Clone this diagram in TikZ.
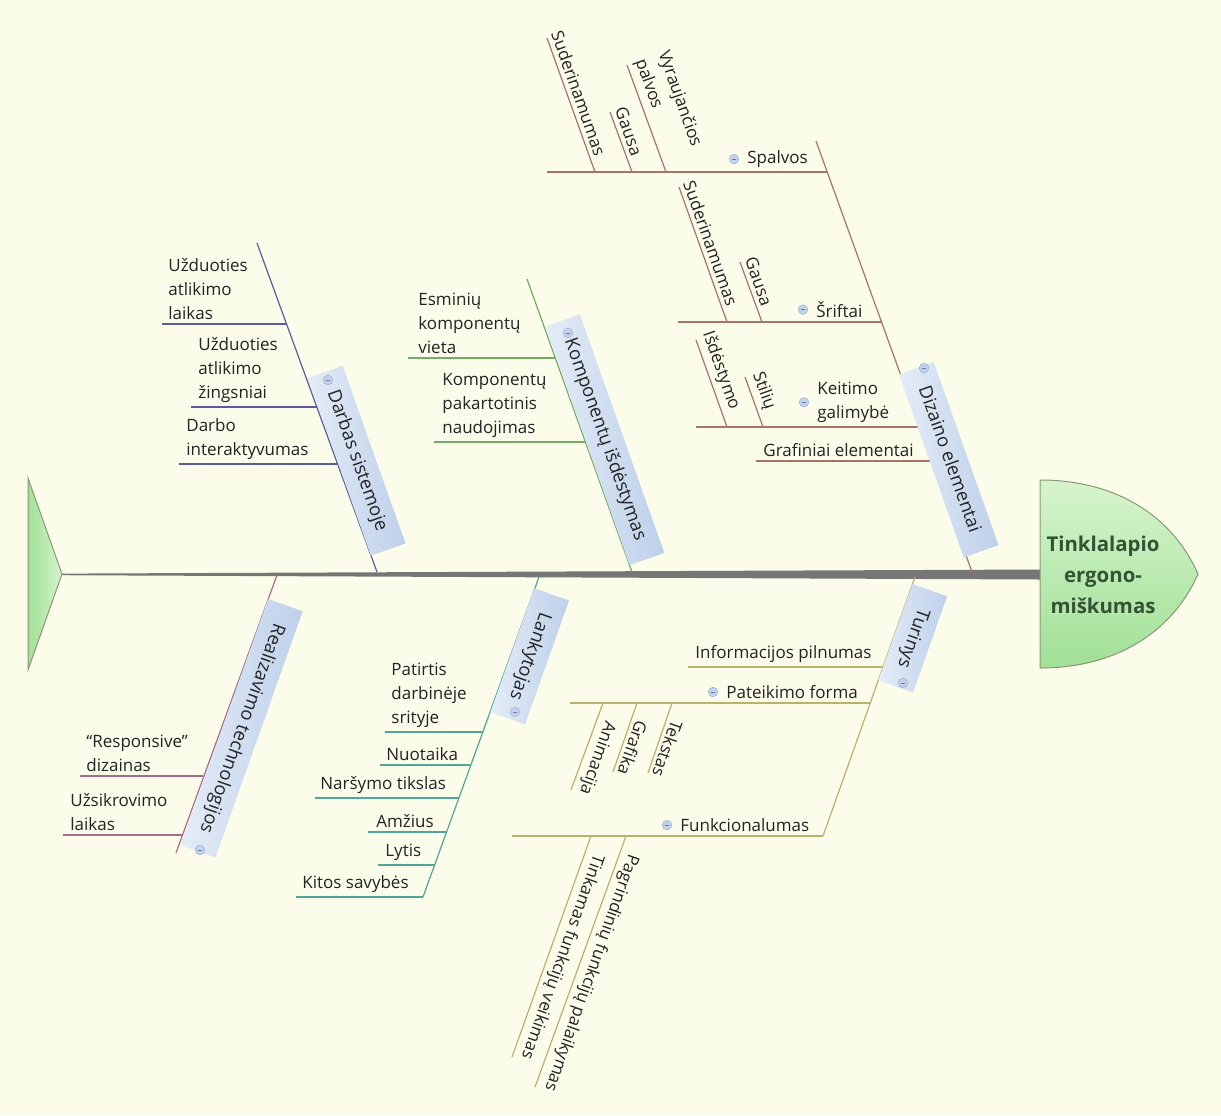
\documentclass[tikz,border=0pt]{standalone}
\usepackage{fontspec}
\setmainfont{Open Sans}
\usepackage{tikz}
\usetikzlibrary{calc, positioning}
\definecolor{paper}{RGB}{252,252,234}
\definecolor{spineGray}{RGB}{118,118,118}
\definecolor{fishEdge}{RGB}{140,150,120}
\definecolor{fishLight}{RGB}{214,244,204}
\definecolor{fishDark}{RGB}{160,224,150}
\definecolor{headText}{RGB}{52,82,52}
\definecolor{leafText}{RGB}{35,35,35}
\definecolor{catLight}{RGB}{228,236,247}
\definecolor{catDark}{RGB}{190,208,234}
\definecolor{iconFill}{RGB}{192,210,236}
\definecolor{iconDash}{RGB}{95,125,175}
\definecolor{dizLine}{RGB}{170,115,105}
\definecolor{kompLine}{RGB}{115,172,100}
\definecolor{darbLine}{RGB}{90,90,160}
\definecolor{turLine}{RGB}{188,178,108}
\definecolor{lankLine}{RGB}{82,166,152}
\definecolor{realLine}{RGB}{165,108,140}

\tikzset{
  rib/.style={line width=0.6pt},
  leaf/.style={inner sep=2pt, font=\fontsize{8.5}{12}\selectfont, text=leafText, align=left},
  upleaf/.style={leaf, rotate=-70.5, anchor=south east},
  downleaf/.style={leaf, rotate=-109.5, anchor=south west},
  catbox/.style={anchor=south, inner xsep=10pt, inner ysep=4.6pt, text height=7pt, text depth=2.2pt,
    font=\fontsize{9.2}{11}\selectfont, text=leafText, left color=catLight, right color=catDark},
  minusicon/.style={circle, inner sep=0pt, minimum size=4.8pt, fill=iconFill, draw=iconFill!80!black, line width=0.2pt,
    path picture={\draw[iconDash, line width=0.5pt] ([xshift=-1.1pt]path picture bounding box.center) -- ([xshift=1.1pt]path picture bounding box.center);}},
  headtext/.style={font=\fontsize{10.2}{15.5}\selectfont\bfseries, text=headText, align=center}
}

\begin{document}
\begin{tikzpicture}[x=0.5pt, y=-0.5pt]
  \fill[paper] (0,0) rectangle (1221,1115);
  \useasboundingbox (0,0) rectangle (1221,1115);

  % spine, tail and head
  \fill[spineGray] (62,573.6) -- (1040,569.5) -- (1040,579.5) -- (62,575.2) -- cycle;
  \draw[fishEdge, line width=0.5pt, left color=fishDark, right color=fishLight] (28,478) -- (62,574) -- (28,670) -- cycle;
  \draw[fishEdge, line width=0.5pt, top color=fishLight, bottom color=fishDark]
    (1040,480) .. controls (1115,480) and (1172,515) .. (1198,574)
    .. controls (1172,633) and (1115,668) .. (1040,668) -- cycle;
  \node[headtext] (effect) at (1103,575) {Tinklalapio\\ergono-\\miškumas};

  % Dizaino elementai
  \coordinate (dizTop) at (816,141);
  \coordinate (dizBase) at (972,572);
  \coordinate (spA) at (547,172);  \coordinate (spB) at (827,172);
  \coordinate (srA) at (678,322);  \coordinate (srB) at (882,322);
  \coordinate (keA) at (696,427);  \coordinate (keB) at (918,427);
  \coordinate (grA) at (756,461);  \coordinate (grB) at (930,461);
  \coordinate (spSudT) at (547,38);  \coordinate (spSudB) at (595,172);
  \coordinate (spGauT) at (610,112); \coordinate (spGauB) at (632,172);
  \coordinate (spVyrT) at (627,65);  \coordinate (spVyrB) at (666,172);
  \coordinate (srSudT) at (679,187); \coordinate (srSudB) at (727,322);
  \coordinate (srGauT) at (740,262); \coordinate (srGauB) at (762,322);
  \coordinate (keIsdT) at (696,340); \coordinate (keIsdB) at (727,427);
  \coordinate (keStiT) at (745,377); \coordinate (keStiB) at (763,427);
  \draw[rib, dizLine] (dizTop) -- (dizBase);
  \draw[rib, dizLine] (spA) -- (spB) (srA) -- (srB) (keA) -- (keB) (grA) -- (grB);
  \draw[rib, dizLine] (spSudT) -- (spSudB) (spGauT) -- (spGauB) (spVyrT) -- (spVyrB)
    (srSudT) -- (srSudB) (srGauT) -- (srGauB) (keIsdT) -- (keIsdB) (keStiT) -- (keStiB);
  \node[catbox, rotate=-70.5] (dizBox) at (931,466) {Dizaino elementai};
  \node[minusicon] (dizIcon) at (924,368) {};
  \node[leaf, anchor=south west] (spalvos) at (743,172) {Spalvos};
  \node[minusicon, left=2pt of spalvos] (spIcon) {};
  \node[upleaf] (spSud) at ($(spSudB)!5pt!(spSudT)$) {Suderinamumas};
  \node[upleaf] (spGau) at ($(spGauB)!5pt!(spGauT)$) {Gausa};
  \node[upleaf] (spVyr) at ($(spVyrB)!5pt!(spVyrT)$) {Vyraujančios\\palvos};
  \node[leaf, anchor=south west] (sriftai) at (812,322) {Šriftai};
  \node[minusicon, left=2pt of sriftai] (srIcon) {};
  \node[upleaf] (srSud) at ($(srSudB)!5pt!(srSudT)$) {Suderinamumas};
  \node[upleaf] (srGau) at ($(srGauB)!5pt!(srGauT)$) {Gausa};
  \node[leaf, anchor=south west] (keitimo) at (813,427) {Keitimo\\galimybė};
  \node[minusicon, left=2pt of keitimo] (keIcon) {};
  \node[upleaf] (keIsd) at ($(keIsdB)!5pt!(keIsdT)$) {Išdėstymo};
  \node[upleaf] (keSti) at ($(keStiB)!5pt!(keStiT)$) {Stilių};
  \node[leaf, anchor=south west] (grafiniai) at (759,461) {Grafiniai elementai};

  % Komponentu isdestymas
  \coordinate (kompTop) at (527,279);
  \coordinate (kompBase) at (632,572);
  \coordinate (esA) at (408,358); \coordinate (esB) at (555,358);
  \coordinate (paA) at (434,442); \coordinate (paB) at (586,442);
  \draw[rib, kompLine] (kompTop) -- (kompBase);
  \draw[rib, kompLine] (esA) -- (esB) (paA) -- (paB);
  \node[catbox, rotate=-70.5] (kompBox) at (587,446) {Komponentų išdėstymas};
  \node[minusicon] (kompIcon) at (568,333) {};
  \node[leaf, anchor=south west] (esminiu) at (414,358) {Esminių\\komponentų\\vieta};
  \node[leaf, anchor=south west] (pakart) at (438,442) {Komponentų\\pakartotinis\\naudojimas};

  % Darbas sistemoje
  \coordinate (darbTop) at (257,243);
  \coordinate (darbBase) at (377,572);
  \coordinate (laA) at (162,324); \coordinate (laB) at (287,324);
  \coordinate (ziA) at (191,407); \coordinate (ziB) at (317,407);
  \coordinate (inA) at (179,464); \coordinate (inB) at (338,464);
  \draw[rib, darbLine] (darbTop) -- (darbBase);
  \draw[rib, darbLine] (laA) -- (laB) (ziA) -- (ziB) (inA) -- (inB);
  \node[catbox, rotate=-70.5] (darbBox) at (339,467) {Darbas sistemoje};
  \node[minusicon] (darbIcon) at (328,380) {};
  \node[leaf, anchor=south west] (laikas) at (164,324) {Užduoties\\atlikimo\\laikas};
  \node[leaf, anchor=south west] (zingsn) at (194,407) {Užduoties\\atlikimo\\žingsniai};
  \node[leaf, anchor=south west] (interakt) at (182,464) {Darbo\\interaktyvumas};

  % Turinys
  \coordinate (turBase) at (915,577);
  \coordinate (turEnd) at (823,836);
  \coordinate (ipA) at (688,667); \coordinate (ipB) at (883,667);
  \coordinate (pfA) at (570,703); \coordinate (pfB) at (870,703);
  \coordinate (fuA) at (512,836); \coordinate (fuB) at (823,836);
  \coordinate (tekT) at (672,703); \coordinate (tekB) at (648,773);
  \coordinate (graT) at (637,703); \coordinate (graB) at (613,772);
  \coordinate (aniT) at (603,703); \coordinate (aniB) at (571,790);
  \coordinate (pagT) at (626,836); \coordinate (pagB) at (535,1087);
  \coordinate (tinT) at (591,836); \coordinate (tinB) at (512,1057);
  \draw[rib, turLine] (turBase) -- (turEnd);
  \draw[rib, turLine] (ipA) -- (ipB) (pfA) -- (pfB) (fuA) -- (fuB);
  \draw[rib, turLine] (tekT) -- (tekB) (graT) -- (graB) (aniT) -- (aniB) (pagT) -- (pagB) (tinT) -- (tinB);
  \node[catbox, rotate=-109.5] (turBox) at (895,632) {Turinys};
  \node[minusicon] (turIcon) at (903,683) {};
  \node[leaf, anchor=south west] (inform) at (691,667) {Informacijos pilnumas};
  \node[leaf, anchor=south west] (pateik) at (722,703) {Pateikimo forma};
  \node[minusicon, left=2pt of pateik] (pfIcon) {};
  \node[downleaf] (tekstas) at ($(tekT)!5.5pt!(tekB)$) {Tekstas};
  \node[downleaf] (grafika) at ($(graT)!5.5pt!(graB)$) {Grafika};
  \node[downleaf] (animac) at ($(aniT)!5.5pt!(aniB)$) {Animacija};
  \node[leaf, anchor=south west] (funkc) at (676,836) {Funkcionalumas};
  \node[minusicon, left=2pt of funkc] (fuIcon) {};
  \node[downleaf] (pagrind) at ($(pagT)!5.5pt!(pagB)$) {Pagrindinių funkcijų palaikymas};
  \node[downleaf] (tinkam) at ($(tinT)!5.5pt!(tinB)$) {Tinkamas funkcijų veikimas};

  % Lankytojas
  \coordinate (lankBase) at (539,577);
  \coordinate (lankEnd) at (423,897);
  \coordinate (ptA) at (385,732); \coordinate (ptB) at (483,732);
  \coordinate (nuA) at (380,765); \coordinate (nuB) at (471,765);
  \coordinate (naA) at (315,798); \coordinate (naB) at (459,798);
  \coordinate (amA) at (368,832); \coordinate (amB) at (447,832);
  \coordinate (lyA) at (378,865); \coordinate (lyB) at (435,865);
  \coordinate (kiA) at (296,897); \coordinate (kiB) at (423,897);
  \draw[rib, lankLine] (lankBase) -- (lankEnd);
  \draw[rib, lankLine] (ptA) -- (ptB) (nuA) -- (nuB) (naA) -- (naB) (amA) -- (amB) (lyA) -- (lyB) (kiA) -- (kiB);
  \node[catbox, rotate=-109.5] (lankBox) at (512,650) {Lankytojas};
  \node[minusicon] (lankIcon) at (515,712) {};
  \node[leaf, anchor=south west] (patirtis) at (387,732) {Patirtis\\darbinėje\\srityje};
  \node[leaf, anchor=south west] (nuotaika) at (382,765) {Nuotaika};
  \node[leaf, anchor=south west] (tikslas) at (316,798) {Naršymo tikslas};
  \node[leaf, anchor=south west] (amzius) at (372,832) {Amžius};
  \node[leaf, anchor=south west] (lytis) at (381,865) {Lytis};
  \node[leaf, anchor=south west] (kitos) at (298,897) {Kitos savybės};

  % Realizavimo technologijos
  \coordinate (realBase) at (277,575);
  \coordinate (realEnd) at (176,853);
  \coordinate (reA) at (80,776); \coordinate (reB) at (203,776);
  \coordinate (uzA) at (63,835); \coordinate (uzB) at (182,835);
  \draw[rib, realLine] (realBase) -- (realEnd);
  \draw[rib, realLine] (reA) -- (reB) (uzA) -- (uzB);
  \node[catbox, rotate=-109.5] (realBox) at (224,722) {Realizavimo technologijos};
  \node[minusicon] (realIcon) at (200,850) {};
  \node[leaf, anchor=south west] (respons) at (82,776) {“Responsive”\\dizainas};
  \node[leaf, anchor=south west] (uzsikr) at (66,835) {Užsikrovimo\\laikas};
\end{tikzpicture}
\end{document}
